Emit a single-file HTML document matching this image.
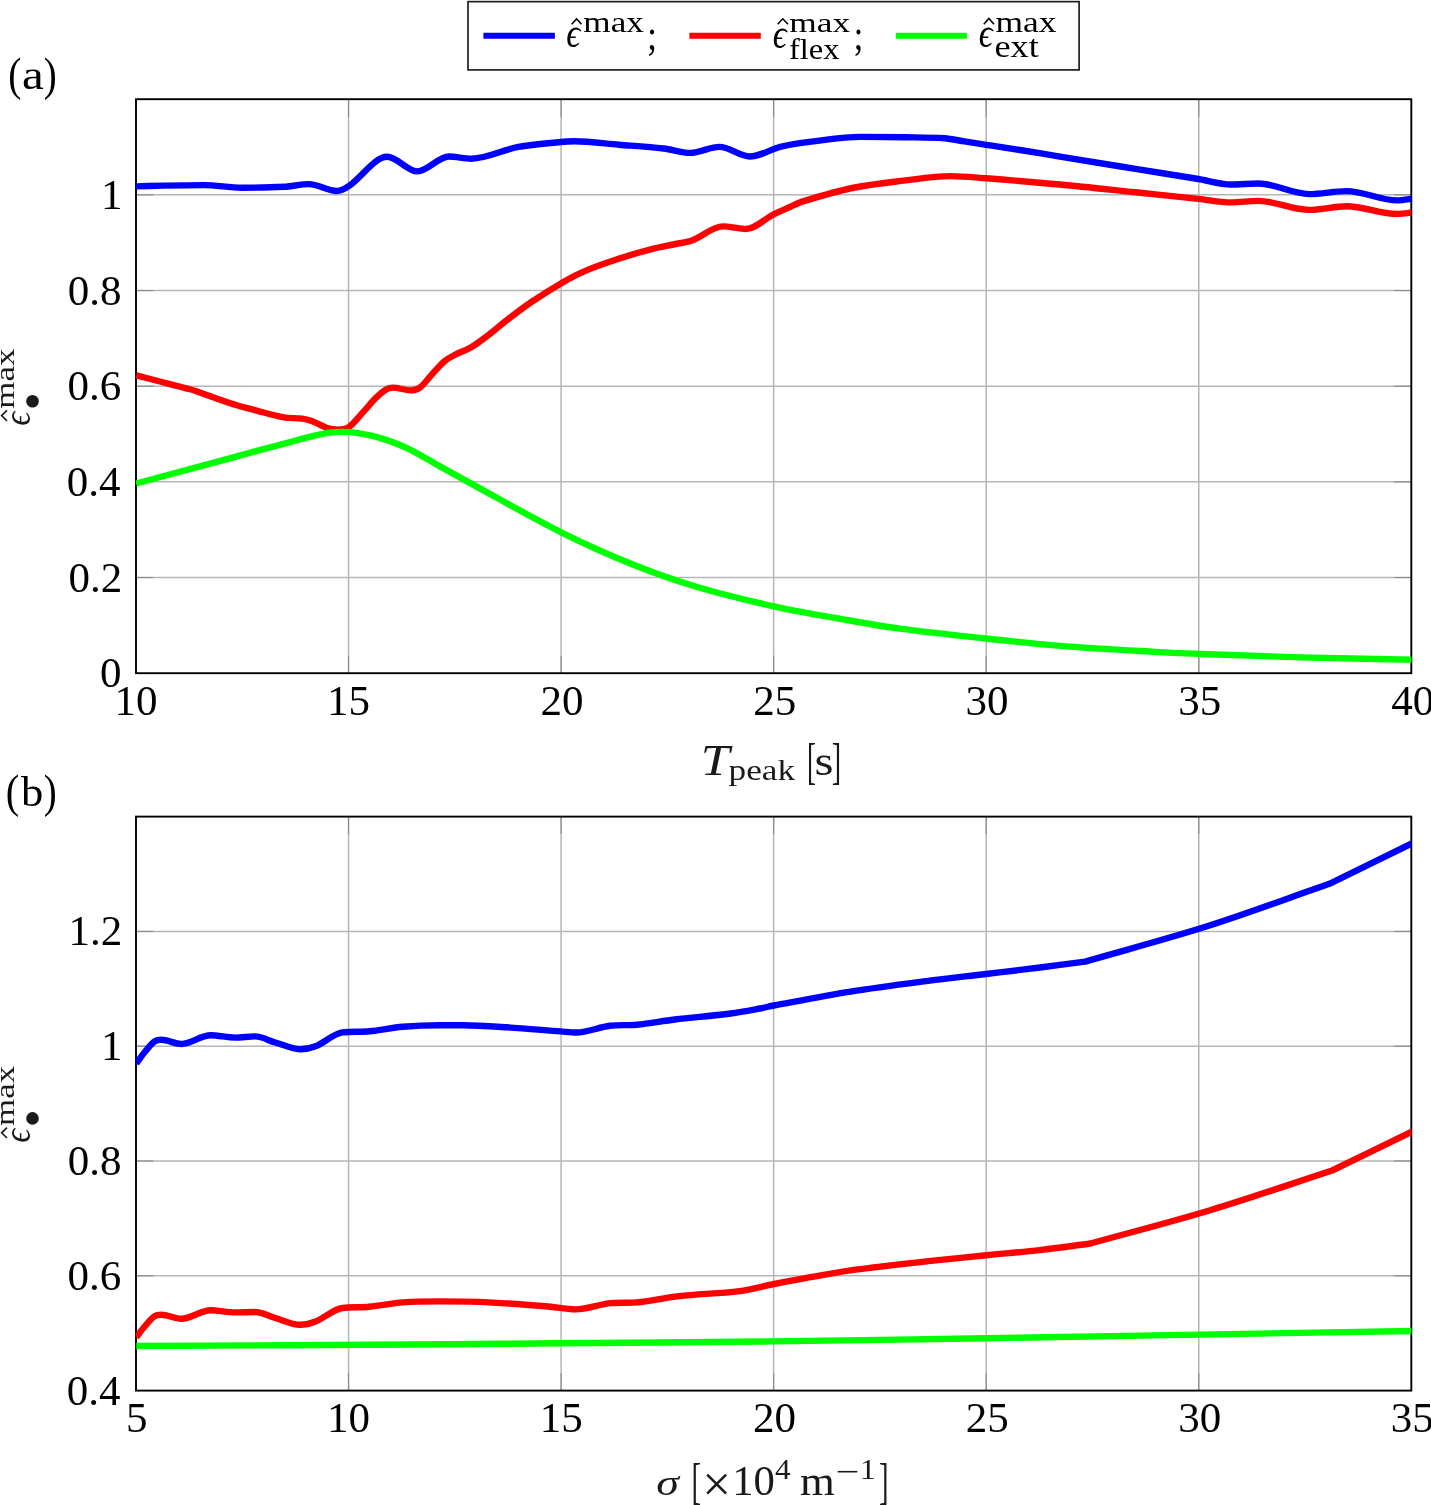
<!DOCTYPE html><html><head><meta charset="utf-8"><style>
html,body{margin:0;padding:0;background:#fff;}
body{width:1431px;height:1505px;overflow:hidden;}
svg{display:block;font-family:"Liberation Serif",serif;font-kerning:none;will-change:transform;}
</style></head><body>
<svg width="1431" height="1505" viewBox="0 0 1431 1505">
<defs><clipPath id="ca"><rect x="135.60" y="89.20" width="1275.70" height="594.00"/></clipPath>
<clipPath id="cb"><rect x="135.60" y="806.60" width="1275.70" height="594.00"/></clipPath></defs>
<g stroke="#b6b6b6" stroke-width="1.5" fill="none"><line x1="348.55" y1="99.20" x2="348.55" y2="673.20"/><line x1="561.10" y1="99.20" x2="561.10" y2="673.20"/><line x1="773.65" y1="99.20" x2="773.65" y2="673.20"/><line x1="986.20" y1="99.20" x2="986.20" y2="673.20"/><line x1="1198.75" y1="99.20" x2="1198.75" y2="673.20"/><line x1="136.00" y1="577.53" x2="1411.30" y2="577.53"/><line x1="136.00" y1="481.87" x2="1411.30" y2="481.87"/><line x1="136.00" y1="386.20" x2="1411.30" y2="386.20"/><line x1="136.00" y1="290.53" x2="1411.30" y2="290.53"/><line x1="136.00" y1="194.87" x2="1411.30" y2="194.87"/></g>
<g stroke="#8a8a8a" stroke-width="1.1" fill="none"><line x1="348.55" y1="673.20" x2="348.55" y2="655.70"/><line x1="348.55" y1="99.20" x2="348.55" y2="116.70"/><line x1="561.10" y1="673.20" x2="561.10" y2="655.70"/><line x1="561.10" y1="99.20" x2="561.10" y2="116.70"/><line x1="773.65" y1="673.20" x2="773.65" y2="655.70"/><line x1="773.65" y1="99.20" x2="773.65" y2="116.70"/><line x1="986.20" y1="673.20" x2="986.20" y2="655.70"/><line x1="986.20" y1="99.20" x2="986.20" y2="116.70"/><line x1="1198.75" y1="673.20" x2="1198.75" y2="655.70"/><line x1="1198.75" y1="99.20" x2="1198.75" y2="116.70"/><line x1="136.00" y1="577.53" x2="153.50" y2="577.53"/><line x1="1411.30" y1="577.53" x2="1393.80" y2="577.53"/><line x1="136.00" y1="481.87" x2="153.50" y2="481.87"/><line x1="1411.30" y1="481.87" x2="1393.80" y2="481.87"/><line x1="136.00" y1="386.20" x2="153.50" y2="386.20"/><line x1="1411.30" y1="386.20" x2="1393.80" y2="386.20"/><line x1="136.00" y1="290.53" x2="153.50" y2="290.53"/><line x1="1411.30" y1="290.53" x2="1393.80" y2="290.53"/><line x1="136.00" y1="194.87" x2="153.50" y2="194.87"/><line x1="1411.30" y1="194.87" x2="1393.80" y2="194.87"/></g>
<rect x="136.00" y="99.20" width="1275.30" height="574.00" fill="none" stroke="#000" stroke-width="1.9"/>
<g stroke="#b6b6b6" stroke-width="1.5" fill="none"><line x1="348.55" y1="816.60" x2="348.55" y2="1390.60"/><line x1="561.10" y1="816.60" x2="561.10" y2="1390.60"/><line x1="773.65" y1="816.60" x2="773.65" y2="1390.60"/><line x1="986.20" y1="816.60" x2="986.20" y2="1390.60"/><line x1="1198.75" y1="816.60" x2="1198.75" y2="1390.60"/><line x1="136.00" y1="1275.80" x2="1411.30" y2="1275.80"/><line x1="136.00" y1="1161.00" x2="1411.30" y2="1161.00"/><line x1="136.00" y1="1046.20" x2="1411.30" y2="1046.20"/><line x1="136.00" y1="931.40" x2="1411.30" y2="931.40"/></g>
<g stroke="#8a8a8a" stroke-width="1.1" fill="none"><line x1="348.55" y1="1390.60" x2="348.55" y2="1373.10"/><line x1="348.55" y1="816.60" x2="348.55" y2="834.10"/><line x1="561.10" y1="1390.60" x2="561.10" y2="1373.10"/><line x1="561.10" y1="816.60" x2="561.10" y2="834.10"/><line x1="773.65" y1="1390.60" x2="773.65" y2="1373.10"/><line x1="773.65" y1="816.60" x2="773.65" y2="834.10"/><line x1="986.20" y1="1390.60" x2="986.20" y2="1373.10"/><line x1="986.20" y1="816.60" x2="986.20" y2="834.10"/><line x1="1198.75" y1="1390.60" x2="1198.75" y2="1373.10"/><line x1="1198.75" y1="816.60" x2="1198.75" y2="834.10"/><line x1="136.00" y1="1275.80" x2="153.50" y2="1275.80"/><line x1="1411.30" y1="1275.80" x2="1393.80" y2="1275.80"/><line x1="136.00" y1="1161.00" x2="153.50" y2="1161.00"/><line x1="1411.30" y1="1161.00" x2="1393.80" y2="1161.00"/><line x1="136.00" y1="1046.20" x2="153.50" y2="1046.20"/><line x1="1411.30" y1="1046.20" x2="1393.80" y2="1046.20"/><line x1="136.00" y1="931.40" x2="153.50" y2="931.40"/><line x1="1411.30" y1="931.40" x2="1393.80" y2="931.40"/></g>
<rect x="136.00" y="816.60" width="1275.30" height="574.00" fill="none" stroke="#000" stroke-width="1.9"/>
<g clip-path="url(#ca)" fill="none" stroke-width="6.4" stroke-linejoin="round">
<path d="M136.10 186.40 C145.23 186.13 154.37 185.78 163.50 185.60 C176.93 185.34 190.37 185.10 203.80 185.10 C216.47 185.10 229.13 187.70 241.80 187.70 C255.97 187.70 270.13 187.56 284.30 186.80 C292.50 186.36 300.70 184.10 308.90 184.10 C318.20 184.10 327.50 191.00 336.80 191.00 C340.90 191.00 345.00 188.68 349.10 185.90 C361.80 177.28 374.50 156.80 387.20 156.80 C397.23 156.80 407.27 171.40 417.30 171.40 C427.83 171.40 438.37 156.50 448.90 156.50 C456.37 156.50 463.83 158.70 471.30 158.70 C486.97 158.70 502.63 149.83 518.30 146.90 C532.43 144.26 546.57 143.42 560.70 142.00 C565.20 141.55 569.70 141.30 574.20 141.30 C589.10 141.30 604.00 143.50 618.90 144.70 C633.80 145.90 648.70 146.79 663.60 148.50 C672.53 149.52 681.47 152.90 690.40 152.90 C700.10 152.90 709.80 146.90 719.50 146.90 C729.57 146.90 739.63 156.50 749.70 156.50 C760.23 156.50 770.77 149.09 781.30 146.60 C792.03 144.06 802.77 142.71 813.50 141.40 C829.17 139.48 844.83 136.90 860.50 136.90 C875.60 136.90 890.70 137.05 905.80 137.30 C918.67 137.51 931.53 137.40 944.40 138.30 C951.10 138.77 957.80 140.36 964.50 141.40 C971.77 142.53 979.03 143.67 986.30 144.80 C997.53 146.54 1008.77 148.20 1020.00 150.00 C1033.33 152.13 1046.67 154.42 1060.00 156.60 C1085.17 160.72 1110.33 164.83 1135.50 168.90 C1156.47 172.29 1177.43 175.58 1198.40 179.00 C1209.27 180.78 1220.13 184.50 1231.00 184.50 C1240.23 184.50 1249.47 183.50 1258.70 183.50 C1275.47 183.50 1292.23 194.10 1309.00 194.10 C1321.60 194.10 1334.20 191.10 1346.80 191.10 C1363.57 191.10 1380.33 200.40 1397.10 200.40 C1403.07 200.40 1409.03 198.93 1415.00 198.20" stroke="#0000ff"/>
<path d="M136.30 375.30 C143.53 377.20 150.77 379.12 158.00 381.00 C168.70 383.78 179.40 386.14 190.10 389.30 C198.03 391.64 205.97 394.80 213.90 397.50 C221.33 400.03 228.77 402.73 236.20 405.00 C242.73 407.00 249.27 408.61 255.80 410.30 C265.10 412.71 274.40 415.63 283.70 417.30 C289.77 418.39 295.83 417.80 301.90 418.60 C305.17 419.03 308.43 419.79 311.70 421.00 C317.17 423.02 322.63 426.52 328.10 428.30 C331.43 429.39 334.77 429.60 338.10 429.60 C341.80 429.60 345.50 429.38 349.20 426.80 C353.83 423.58 358.47 417.22 363.10 412.20 C367.20 407.76 371.30 402.45 375.40 398.40 C378.97 394.88 382.53 391.69 386.10 389.50 C388.40 388.09 390.70 387.60 393.00 387.60 C398.90 387.60 404.80 390.40 410.70 390.40 C413.77 390.40 416.83 389.92 419.90 387.60 C424.00 384.49 428.10 378.50 432.20 374.10 C436.30 369.70 440.40 364.66 444.50 361.20 C448.10 358.16 451.70 356.47 455.30 354.60 C460.43 351.94 465.57 350.56 470.70 347.60 C475.80 344.66 480.90 340.78 486.00 336.90 C493.70 331.04 501.40 324.30 509.10 318.40 C516.80 312.50 524.50 306.70 532.20 301.50 C541.77 295.04 551.33 288.97 560.90 283.40 C568.47 279.00 576.03 274.84 583.60 271.60 C594.77 266.81 605.93 263.01 617.10 259.30 C628.30 255.58 639.50 252.22 650.70 249.30 C659.07 247.12 667.43 245.82 675.80 244.00 C681.40 242.78 687.00 242.30 692.60 240.20 C702.67 236.43 712.73 226.40 722.80 226.40 C730.63 226.40 738.47 229.00 746.30 229.00 C755.27 229.00 764.23 219.11 773.20 214.60 C778.80 211.78 784.40 209.48 790.00 207.00 C794.33 205.08 798.67 202.72 803.00 201.40 C819.40 196.39 835.80 191.39 852.20 188.00 C869.33 184.46 886.47 182.67 903.60 180.60 C919.27 178.71 934.93 176.10 950.60 176.10 C962.37 176.10 974.13 177.40 985.90 178.30 C1010.60 180.20 1035.30 182.19 1060.00 184.50 C1085.17 186.86 1110.33 189.68 1135.50 192.30 C1156.47 194.48 1177.43 196.68 1198.40 198.90 C1209.27 200.05 1220.13 202.40 1231.00 202.40 C1240.23 202.40 1249.47 200.90 1258.70 200.90 C1275.47 200.90 1292.23 209.90 1309.00 209.90 C1321.60 209.90 1334.20 206.20 1346.80 206.20 C1363.57 206.20 1380.33 214.00 1397.10 214.00 C1403.07 214.00 1409.03 212.80 1415.00 212.20" stroke="#ff0000"/>
<path d="M136.10 483.50 C164.80 475.77 193.50 468.02 222.20 460.30 C244.80 454.22 267.40 448.18 290.00 442.10 C297.13 440.18 304.27 438.00 311.40 436.30 C317.53 434.84 323.67 433.46 329.80 432.60 C334.07 432.00 338.33 431.90 342.60 431.90 C347.83 431.90 353.07 432.25 358.30 433.10 C365.73 434.31 373.17 435.78 380.60 438.10 C389.93 441.01 399.27 444.35 408.60 448.80 C419.07 453.79 429.53 460.58 440.00 466.40 C450.70 472.35 461.40 478.28 472.10 484.10 C501.80 500.25 531.50 517.45 561.20 532.30 C585.10 544.25 609.00 554.89 632.90 564.50 C654.33 573.12 675.77 580.64 697.20 587.00 C722.70 594.57 748.20 600.64 773.70 606.30 C796.40 611.34 819.10 615.07 841.80 619.10 C861.20 622.54 880.60 626.10 900.00 628.70 C928.77 632.56 957.53 635.44 986.30 638.50 C1012.03 641.24 1037.77 644.09 1063.50 646.10 C1095.67 648.62 1127.83 650.25 1160.00 652.10 C1173.00 652.85 1186.00 653.41 1199.00 653.90 C1233.00 655.18 1267.00 656.47 1301.00 657.40 C1339.00 658.44 1377.00 659.00 1415.00 659.80" stroke="#00ff00"/>
</g>
<g clip-path="url(#cb)" fill="none" stroke-width="6.4" stroke-linejoin="round">
<path d="M136.30 1063.50 C138.67 1060.27 141.03 1056.66 143.40 1053.80 C147.13 1049.29 150.87 1044.07 154.60 1041.40 C156.83 1039.80 159.07 1039.80 161.30 1039.80 C168.00 1039.80 174.70 1044.00 181.40 1044.00 C191.10 1044.00 200.80 1035.30 210.50 1035.30 C218.70 1035.30 226.90 1037.60 235.10 1037.60 C241.80 1037.60 248.50 1036.40 255.20 1036.40 C261.90 1036.40 268.60 1040.59 275.30 1042.50 C283.53 1044.85 291.77 1049.20 300.00 1049.20 C305.20 1049.20 310.40 1048.36 315.60 1046.30 C324.53 1042.76 333.47 1033.50 342.40 1032.40 C351.37 1031.30 360.33 1032.13 369.30 1031.30 C380.47 1030.26 391.63 1027.75 402.80 1026.80 C415.20 1025.75 427.60 1025.30 440.00 1025.30 C447.47 1025.30 454.93 1025.30 462.40 1025.30 C477.30 1025.30 492.20 1026.38 507.10 1027.30 C524.97 1028.41 542.83 1030.06 560.70 1031.40 C565.93 1031.79 571.17 1032.50 576.40 1032.50 C587.57 1032.50 598.73 1027.17 609.90 1025.80 C618.87 1024.70 627.83 1025.57 636.80 1024.70 C649.47 1023.47 662.13 1021.01 674.80 1019.50 C693.43 1017.28 712.07 1015.91 730.70 1013.50 C740.47 1012.24 750.23 1010.31 760.00 1008.50 C764.63 1007.64 769.27 1006.36 773.90 1005.50 C799.47 1000.73 825.03 995.70 850.60 991.60 C875.77 987.57 900.93 984.37 926.10 981.10 C946.07 978.50 966.03 976.38 986.00 974.00 C1004.00 971.85 1022.00 969.75 1040.00 967.50 C1055.03 965.62 1070.07 963.57 1085.10 961.60 C1125.73 949.83 1166.37 939.24 1207.00 926.30 C1247.80 913.31 1288.60 897.97 1329.40 883.80 C1357.93 869.83 1386.47 855.87 1415.00 841.90" stroke="#0000ff"/>
<path d="M136.30 1337.20 C138.67 1334.13 141.03 1330.72 143.40 1328.00 C147.13 1323.72 150.87 1318.71 154.60 1316.20 C156.83 1314.70 159.07 1314.70 161.30 1314.70 C168.00 1314.70 174.70 1318.70 181.40 1318.70 C191.10 1318.70 200.80 1310.20 210.50 1310.20 C218.70 1310.20 226.90 1312.40 235.10 1312.40 C241.80 1312.40 248.50 1312.00 255.20 1312.00 C261.90 1312.00 268.60 1316.10 275.30 1318.00 C283.53 1320.33 291.77 1324.70 300.00 1324.70 C305.20 1324.70 310.40 1323.45 315.60 1321.40 C324.53 1317.88 333.47 1309.20 342.40 1308.00 C351.37 1306.80 360.33 1307.63 369.30 1306.80 C380.47 1305.76 391.63 1303.25 402.80 1302.40 C415.20 1301.45 427.60 1301.40 440.00 1301.40 C452.57 1301.40 465.13 1301.40 477.70 1301.90 C500.37 1302.80 523.03 1304.47 545.70 1306.20 C555.73 1306.97 565.77 1309.40 575.80 1309.40 C587.57 1309.40 599.33 1304.08 611.10 1303.10 C619.47 1302.40 627.83 1303.10 636.20 1302.40 C650.47 1301.21 664.73 1297.66 679.00 1296.10 C699.13 1293.90 719.27 1293.66 739.40 1291.10 C750.97 1289.63 762.53 1286.27 774.10 1284.00 C782.73 1282.30 791.37 1280.72 800.00 1279.20 C818.50 1275.95 837.00 1272.29 855.50 1269.70 C880.63 1266.19 905.77 1263.67 930.90 1260.90 C949.37 1258.87 967.83 1257.13 986.30 1255.30 C1004.20 1253.53 1022.10 1252.13 1040.00 1250.10 C1056.83 1248.19 1073.67 1245.70 1090.50 1243.50 C1130.67 1232.33 1170.83 1222.14 1211.00 1210.00 C1251.37 1197.80 1291.73 1183.67 1332.10 1170.50 C1359.73 1157.07 1387.37 1143.63 1415.00 1130.20" stroke="#ff0000"/>
<path d="M136.30 1346.00 C240.87 1345.43 345.43 1344.99 450.00 1344.30 C487.17 1344.06 524.33 1343.53 561.50 1343.20 C632.37 1342.57 703.23 1342.24 774.10 1341.40 C844.63 1340.57 915.17 1339.33 985.70 1338.20 C1056.80 1337.06 1127.90 1335.81 1199.00 1334.60 C1271.00 1333.38 1343.00 1332.13 1415.00 1330.90" stroke="#00ff00"/>
</g>
<text transform="translate(100.04 687.29) scale(1.0000 1)" style="font-size:43.00px;" fill="#000">0</text>
<text transform="translate(68.52 591.53) scale(1.0000 1)" style="font-size:43.00px;" fill="#000">0.2</text>
<text transform="translate(66.82 495.86) scale(1.0000 1)" style="font-size:43.00px;" fill="#000">0.4</text>
<text transform="translate(67.43 400.19) scale(1.0000 1)" style="font-size:43.00px;" fill="#000">0.6</text>
<text transform="translate(67.79 304.53) scale(1.0000 1)" style="font-size:43.00px;" fill="#000">0.8</text>
<text transform="translate(100.98 209.06) scale(1.0000 1)" style="font-size:43.00px;" fill="#000">1</text>
<text transform="translate(114.53 715.40) scale(1.0000 1)" style="font-size:43.00px;" fill="#000">10</text>
<text transform="translate(327.10 715.19) scale(1.0000 1)" style="font-size:43.00px;" fill="#000">15</text>
<text transform="translate(540.57 715.40) scale(1.0000 1)" style="font-size:43.00px;" fill="#000">20</text>
<text transform="translate(753.15 715.27) scale(1.0000 1)" style="font-size:43.00px;" fill="#000">25</text>
<text transform="translate(965.59 715.40) scale(1.0000 1)" style="font-size:43.00px;" fill="#000">30</text>
<text transform="translate(1178.16 715.27) scale(1.0000 1)" style="font-size:43.00px;" fill="#000">35</text>
<text transform="translate(1391.30 715.40) scale(1.0000 1)" style="font-size:43.00px;" fill="#000">40</text>
<text transform="translate(66.82 1404.59) scale(1.0000 1)" style="font-size:43.00px;" fill="#000">0.4</text>
<text transform="translate(67.43 1289.79) scale(1.0000 1)" style="font-size:43.00px;" fill="#000">0.6</text>
<text transform="translate(67.79 1174.99) scale(1.0000 1)" style="font-size:43.00px;" fill="#000">0.8</text>
<text transform="translate(100.98 1060.39) scale(1.0000 1)" style="font-size:43.00px;" fill="#000">1</text>
<text transform="translate(68.52 945.33) scale(1.0000 1)" style="font-size:43.00px;" fill="#000">1.2</text>
<text transform="translate(125.94 1431.76) scale(1.0000 1)" style="font-size:43.00px;" fill="#000">5</text>
<text transform="translate(327.08 1432.20) scale(1.0000 1)" style="font-size:43.00px;" fill="#000">10</text>
<text transform="translate(539.65 1431.99) scale(1.0000 1)" style="font-size:43.00px;" fill="#000">15</text>
<text transform="translate(753.12 1432.20) scale(1.0000 1)" style="font-size:43.00px;" fill="#000">20</text>
<text transform="translate(965.70 1432.07) scale(1.0000 1)" style="font-size:43.00px;" fill="#000">25</text>
<text transform="translate(1178.14 1432.20) scale(1.0000 1)" style="font-size:43.00px;" fill="#000">30</text>
<text transform="translate(1390.71 1432.07) scale(1.0000 1)" style="font-size:43.00px;" fill="#000">35</text>
<text transform="translate(8.27 89.97) scale(0.8430 1)" style="font-size:46.65px;" fill="#000">(</text>
<text transform="translate(21.97 89.20) scale(1.1881 1)" style="font-size:41.34px;" fill="#000">a</text>
<text transform="translate(43.75 89.97) scale(0.8346 1)" style="font-size:46.65px;" fill="#000">)</text>
<text transform="translate(5.72 807.09) scale(0.8701 1)" style="font-size:46.54px;" fill="#000">(</text>
<text transform="translate(21.00 806.29) scale(1.0565 1)" style="font-size:42.21px;" fill="#000">b</text>
<text transform="translate(43.75 807.09) scale(0.8366 1)" style="font-size:46.54px;" fill="#000">)</text>
<text transform="translate(700.81 774.80) scale(1.1584 1)" style="font-size:44.75px;font-style:italic;" fill="#1a1a1a">T</text>
<text transform="translate(728.53 780.25) scale(1.2204 1)" style="font-size:28.89px;" fill="#1a1a1a">peak</text>
<text transform="translate(807.00 778.03) scale(0.5323 1)" style="font-size:50.63px;" fill="#1a1a1a">[</text>
<text transform="translate(814.60 774.99) scale(1.1715 1)" style="font-size:41.58px;" fill="#1a1a1a">s</text>
<text transform="translate(831.78 778.03) scale(0.5589 1)" style="font-size:50.63px;" fill="#1a1a1a">]</text>
<text transform="translate(656.33 1494.64) scale(1.2667 1)" style="font-size:36.35px;font-style:italic;" fill="#1a1a1a">σ</text>
<text transform="translate(691.47 1497.82) scale(0.5760 1)" style="font-size:49.90px;" fill="#1a1a1a">[</text>
<text transform="translate(702.37 1500.53) scale(1.0209 1)" style="font-size:49.85px;" fill="#1a1a1a">×</text>
<text transform="translate(732.15 1494.58) scale(0.9896 1)" style="font-size:43.12px;" fill="#1a1a1a">10</text>
<text transform="translate(774.89 1479.10) scale(1.0266 1)" style="font-size:30.39px;" fill="#1a1a1a">4</text>
<text transform="translate(799.96 1494.50) scale(1.0823 1)" style="font-size:41.38px;" fill="#1a1a1a">m</text>
<rect x="837.7" y="1470.9" width="19.6" height="1.6" fill="#1a1a1a"/>
<text transform="translate(859.85 1479.30) scale(1.0796 1)" style="font-size:29.99px;" fill="#1a1a1a">1</text>
<text transform="translate(878.96 1497.82) scale(0.5760 1)" style="font-size:49.90px;" fill="#1a1a1a">]</text>
<text transform="translate(29.62 425.63) rotate(-90) scale(0.8981 1)" style="font-size:38.46px;font-style:italic;" fill="#1a1a1a">ϵ</text>
<text transform="translate(14.04 408.73) rotate(-90) scale(1.3233 1)" style="font-size:26.41px;" fill="#1a1a1a">max</text>
<circle cx="32.5" cy="401.20" r="6.3" fill="#1a1a1a"/>
<path d="M7 410.40 L1.6 415.60 L7 420.80" fill="none" stroke="#1a1a1a" stroke-width="1.6"/>
<text transform="translate(29.62 1142.83) rotate(-90) scale(0.8981 1)" style="font-size:38.46px;font-style:italic;" fill="#1a1a1a">ϵ</text>
<text transform="translate(14.04 1125.93) rotate(-90) scale(1.3233 1)" style="font-size:26.41px;" fill="#1a1a1a">max</text>
<circle cx="32.5" cy="1118.40" r="6.3" fill="#1a1a1a"/>
<path d="M7 1127.60 L1.6 1132.80 L7 1138.00" fill="none" stroke="#1a1a1a" stroke-width="1.6"/>
<rect x="468.0" y="1.65" width="611.1" height="68.25" fill="#fff" stroke="#202020" stroke-width="1.7"/>
<line x1="483.4" y1="35.7" x2="554.9" y2="35.7" stroke="#0000ff" stroke-width="6"/>
<line x1="689.4" y1="35.8" x2="760.8" y2="35.8" stroke="#ff0000" stroke-width="6"/>
<line x1="895.8" y1="35.7" x2="966.9" y2="35.7" stroke="#00ff00" stroke-width="6"/>
<text transform="translate(566.27 47.22) scale(0.8837 1)" style="font-size:39.09px;font-style:italic;" fill="#000">ϵ</text>
<path d="M571.70 24.30 L576.60 18.90 L581.50 24.30" fill="none" stroke="#000" stroke-width="1.6"/>
<text transform="translate(583.36 32.02) scale(1.2350 1)" style="font-size:28.48px;" fill="#000">max</text>
<text transform="translate(647.30 48.61) scale(0.8372 1)" style="font-size:41.57px;" fill="#000">;</text>
<text transform="translate(772.78 47.51) scale(0.8637 1)" style="font-size:39.71px;font-style:italic;" fill="#000">ϵ</text>
<path d="M777.60 24.20 L782.80 18.80 L788.00 24.20" fill="none" stroke="#000" stroke-width="1.6"/>
<text transform="translate(789.26 31.83) scale(1.2883 1)" style="font-size:27.45px;" fill="#000">max</text>
<text transform="translate(789.00 58.62) scale(1.1310 1)" style="font-size:28.72px;" fill="#000">flex</text>
<text transform="translate(853.83 48.76) scale(0.8025 1)" style="font-size:42.53px;" fill="#000">;</text>
<text transform="translate(978.77 47.22) scale(0.8837 1)" style="font-size:39.09px;font-style:italic;" fill="#000">ϵ</text>
<path d="M983.80 24.30 L988.90 18.50 L994.00 24.30" fill="none" stroke="#000" stroke-width="1.6"/>
<text transform="translate(995.46 32.32) scale(1.2167 1)" style="font-size:29.11px;" fill="#000">max</text>
<text transform="translate(994.49 57.48) scale(1.1148 1)" style="font-size:32.47px;" fill="#000">ext</text>
</svg></body></html>
